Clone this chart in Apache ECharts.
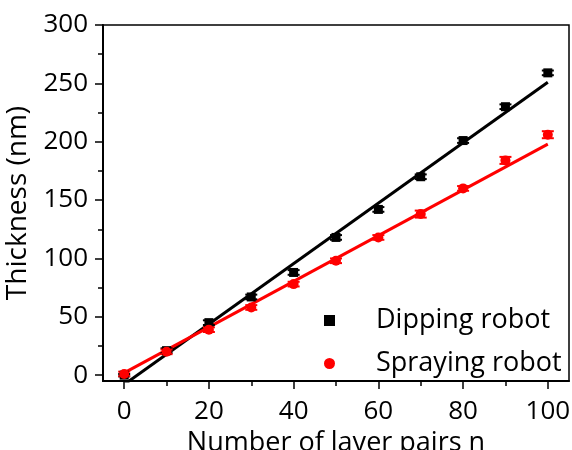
<!DOCTYPE html>
<html>
<head>
<meta charset="utf-8">
<script src="https://cdn.jsdelivr.net/npm/echarts@6/dist/echarts.min.js"></script>
<style>
  html, body { margin: 0; padding: 0; background: #fff; }
  #chart { width: 572px; height: 450px; }
</style>
</head>
<body>
<div id="chart"></div>
<script>
const layerPairs = [0, 10, 20, 30, 40, 50, 60, 70, 80, 90, 100]
const dipping = [0, 21, 45, 67, 88, 118, 142, 170, 201, 230, 259]
const dippingErr = [1, 2, 2, 2, 2, 2, 2, 2, 2, 2, 2]
const spraying = [1, 20, 39, 58, 78, 98, 118, 138, 160, 184, 206]
const sprayingErr = [2, 2, 2, 2, 2, 2, 2, 3, 2, 3, 3]
// linear fits (two end points each)
const dippingFit = [[0, -8], [100, 251]]
const sprayingFit = [[0, 2], [100, 198]]
const xMajor = [0, 20, 40, 60, 80, 100]
const xMinor = [10, 30, 50, 70, 90]
const yMajor = [0, 50, 100, 150, 200, 250, 300]
const yMinor = [25, 75, 125, 175, 225, 275]

const FONT = "Open Sans"

function pairs(ys) {
  return layerPairs.map((n, i) => [n, ys[i]])
}

function errorSeries(ys, errs, color) {
  return {
    type: "custom",
    data: layerPairs.map((n, i) => [n, ys[i] - errs[i], ys[i] + errs[i]]),
    z: 3,
    renderItem: (params, api) => {
      let lo = api.coord([api.value(0), api.value(1)])
      let hi = api.coord([api.value(0), api.value(2)])
      let w = 6
      let style = { stroke: color, lineWidth: 2 }
      return {
        type: "group",
        children: [
          { type: "line", shape: { x1: lo[0], y1: lo[1], x2: hi[0], y2: hi[1] }, style: style },
          { type: "line", shape: { x1: lo[0] - w, y1: lo[1], x2: lo[0] + w, y2: lo[1] }, style: style },
          { type: "line", shape: { x1: hi[0] - w, y1: hi[1], x2: hi[0] + w, y2: hi[1] }, style: style },
        ],
      }
    },
  }
}

let myChart = echarts.init(document.getElementById("chart"))
myChart.setOption({
  animation: false,
  textStyle: { fontFamily: FONT },
  grid: {
    left: 103,
    right: 3,
    top: 25,
    bottom: 69,
    outerBoundsMode: "none",
    containLabel: false,
    show: true,
    borderColor: "#000",
    borderWidth: 1.5,
  },
  legend: {
    orient: "vertical",
    left: 319,
    top: 302,
    itemGap: 16,
    itemWidth: 11,
    itemHeight: 11,
    data: ["Dipping robot", "Spraying robot"],
    textStyle: { fontFamily: FONT, fontSize: 27, color: "#000", padding: [0, 0, 0, 36] },
  },
  xAxis: [
    {
      type: "value",
      min: -5,
      max: 105,
      name: "Number of layer pairs n",
      nameLocation: "middle",
      nameGap: 48,
      nameTextStyle: { fontFamily: FONT, fontSize: 27, color: "#000" },
      axisLine: { onZero: false, lineStyle: { color: "#000", width: 2 } },
      axisTick: { customValues: xMajor, length: 8, lineStyle: { color: "#000", width: 1.5 } },
      axisLabel: { customValues: xMajor, fontFamily: FONT, fontSize: 26, color: "#000", margin: 18 },
      splitLine: { show: false },
    },
    {
      type: "value",
      min: -5,
      max: 105,
      position: "bottom",
      axisLine: { show: false, onZero: false },
      axisTick: { customValues: xMinor, length: 5, lineStyle: { color: "#000", width: 1.5 } },
      axisLabel: { show: false },
      splitLine: { show: false },
    },
  ],
  yAxis: [
    {
      type: "value",
      min: -5,
      max: 300,
      name: "Thickness (nm)",
      nameLocation: "middle",
      nameGap: 60,
      nameTextStyle: { fontFamily: FONT, fontSize: 28, color: "#000" },
      axisLine: { show: true, onZero: false, lineStyle: { color: "#000", width: 2 } },
      axisTick: { show: true, customValues: yMajor, length: 8, lineStyle: { color: "#000", width: 1.5 } },
      axisLabel: { customValues: yMajor, fontFamily: FONT, fontSize: 26, color: "#000", margin: 15 },
      splitLine: { show: false },
    },
    {
      type: "value",
      min: -5,
      max: 300,
      position: "left",
      axisLine: { show: false, onZero: false },
      axisTick: { show: true, customValues: yMinor, length: 5, lineStyle: { color: "#000", width: 1.5 } },
      axisLabel: { show: false },
      splitLine: { show: false },
    },
  ],
  series: [
    {
      type: "line",
      data: dippingFit,
      symbol: "none",
      clip: true,
      lineStyle: { color: "#000", width: 3 },
      z: 2,
    },
    {
      type: "line",
      data: sprayingFit,
      symbol: "none",
      clip: true,
      lineStyle: { color: "#ff0000", width: 3 },
      z: 2,
    },
    errorSeries(dipping, dippingErr, "#000"),
    errorSeries(spraying, sprayingErr, "#ff0000"),
    {
      name: "Dipping robot",
      type: "scatter",
      data: pairs(dipping),
      symbol: "rect",
      symbolSize: 9,
      itemStyle: { color: "#000", opacity: 1 },
      z: 4,
    },
    {
      name: "Spraying robot",
      type: "scatter",
      data: pairs(spraying),
      symbol: "circle",
      symbolSize: 10,
      itemStyle: { color: "#ff0000", opacity: 1 },
      z: 5,
    },
  ],
})

window.addEventListener("resize", () => {
  myChart.resize()
})
</script>
</body>
</html>
